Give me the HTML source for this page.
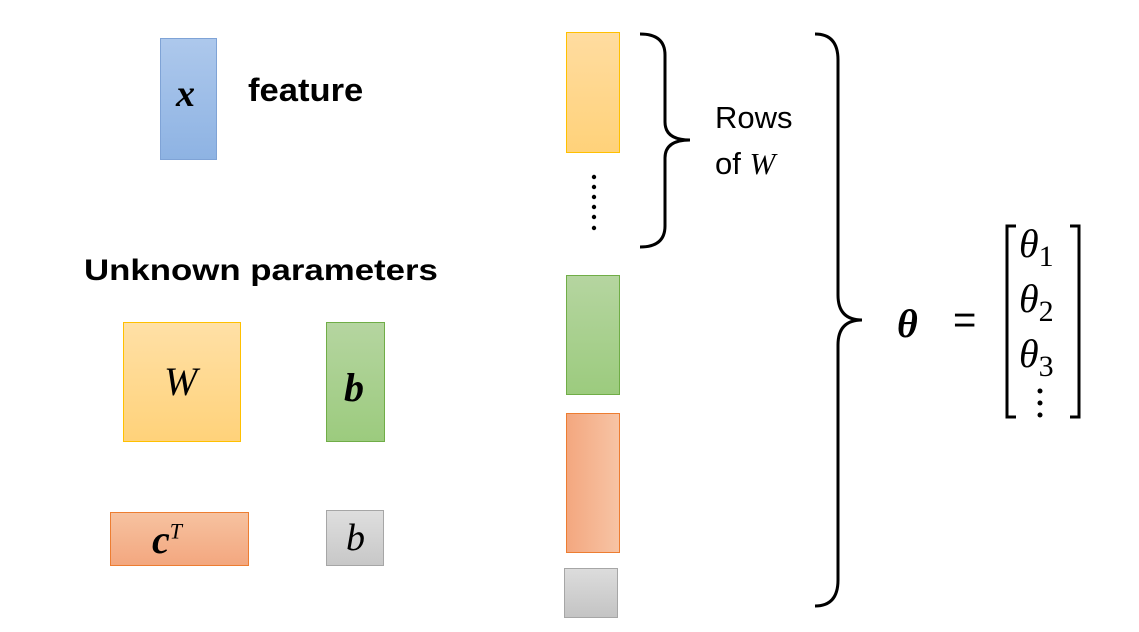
<!DOCTYPE html>
<html><head><style>
body{margin:0;width:1139px;height:632px;background:#fff;position:relative;overflow:hidden;font-family:"Liberation Sans",sans-serif}
.b{position:absolute;box-sizing:border-box}
.t{position:absolute;white-space:nowrap}
.m{font-family:"Liberation Serif","DejaVu Serif",serif;font-style:italic}
</style></head><body>
<div class="b" style="left:160px;top:38px;width:57px;height:122px;background:linear-gradient(#adc8ec,#8eb3e3);border:1px solid #7fa3d6"></div>
<div class="t m" style="left:176px;top:72px;font-size:38px;font-weight:bold">x</div>
<div class="t" style="left:248px;top:72px;font-size:32px;font-weight:bold;transform-origin:0 0;transform:scaleX(1.08)">feature</div>
<div class="t" style="left:84px;top:254px;font-size:30px;font-weight:bold;transform-origin:0 0;transform:scaleX(1.16)">Unknown parameters</div>
<div class="b" style="left:123px;top:322px;width:118px;height:120px;background:linear-gradient(#ffe0a6,#ffd27a);border:1px solid #ffc000"></div>
<div class="t m" style="left:164px;top:358px;font-size:40px">W</div>
<div class="b" style="left:326px;top:322px;width:59px;height:120px;background:linear-gradient(#b5d5a0,#9ccb7e);border:1px solid #70ad47"></div>
<div class="t m" style="left:344px;top:364px;font-size:40px;font-weight:bold">b</div>
<div class="b" style="left:110px;top:512px;width:139px;height:54px;background:linear-gradient(#f6c2a0,#f3a77f);border:1px solid #ed7d31"></div>
<div class="t m" style="left:152px;top:516px;font-size:40px;font-weight:bold">c<sup style="font-size:22px;font-weight:normal">T</sup></div>
<div class="b" style="left:326px;top:510px;width:58px;height:56px;background:linear-gradient(#dedede,#c8c8c8);border:1px solid #a6a6a6"></div>
<div class="t m" style="left:346px;top:516px;font-size:38px">b</div>
<div class="b" style="left:566px;top:32px;width:54px;height:121px;background:linear-gradient(#ffdca0,#ffd27a);border:1px solid #ffc000"></div>
<div class="b" style="left:566px;top:275px;width:54px;height:120px;background:linear-gradient(#b5d5a0,#9ccb7e);border:1px solid #70ad47"></div>
<div class="b" style="left:566px;top:413px;width:54px;height:140px;background:linear-gradient(90deg,#f3a77f,#f7c4a5);border:1px solid #ed7d31"></div>
<div class="b" style="left:564px;top:568px;width:54px;height:50px;background:linear-gradient(#dcdcdc,#c4c4c4);border:1px solid #a6a6a6"></div>
<svg class="b" style="left:0;top:0" width="1139" height="632">
<g fill="#000"><circle cx="594" cy="177" r="2.2"/><circle cx="594" cy="187" r="2.2"/><circle cx="594" cy="197" r="2.2"/><circle cx="594" cy="207" r="2.2"/><circle cx="594" cy="217" r="2.2"/><circle cx="594" cy="228" r="2.2"/></g>
<g fill="none" stroke="#000" stroke-width="3">
<path d="M640 34 Q665 34 665 55 L665 122 Q665 140 690 140 Q665 140 665 158 L665 226 Q665 247 640 247"/>
<path d="M815 34 Q838 34 838 60 L838 295 Q838 320 862 320 Q838 320 838 345 L838 580 Q838 606 815 606"/>
<path d="M1016 226 L1007 226 L1007 417 L1016 417"/>
<path d="M1070 226 L1079 226 L1079 417 L1070 417"/>
</g>
</svg>
<div class="t" style="left:715px;top:100px;font-size:31px">Rows</div>
<div class="t" style="left:715px;top:146px;font-size:31px">of <span class="m">W</span></div>
<div class="t m" style="left:897px;top:300px;font-size:40px;font-weight:bold">θ</div>
<div class="t" style="left:953px;top:298px;font-size:40px">=</div>
<div class="t m" style="left:1019px;top:220px;font-size:40px">θ<span style="font-style:normal;font-size:30px;vertical-align:-9px">1</span></div>
<div class="t m" style="left:1019px;top:275px;font-size:40px">θ<span style="font-style:normal;font-size:30px;vertical-align:-9px">2</span></div>
<div class="t m" style="left:1019px;top:330px;font-size:40px">θ<span style="font-style:normal;font-size:30px;vertical-align:-9px">3</span></div>
<svg class="b" style="left:1034px;top:386px" width="12" height="34"><g fill="#000"><circle cx="6" cy="5" r="2.5"/><circle cx="6" cy="17" r="2.5"/><circle cx="6" cy="29" r="2.5"/></g></svg>
</body></html>
